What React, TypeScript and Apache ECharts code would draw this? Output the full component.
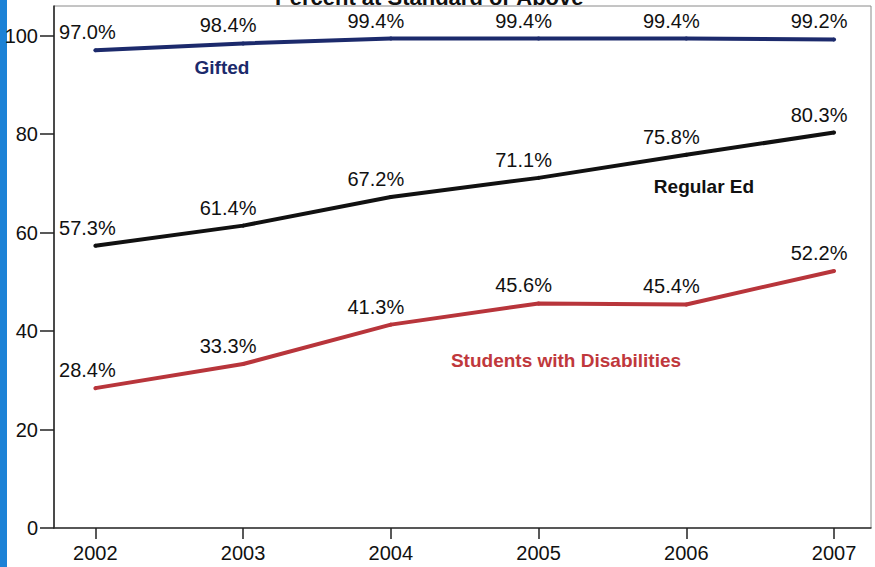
import React, { useEffect, useRef } from "react";
import * as echarts from "echarts";

const years = [2002, 2003, 2004, 2005, 2006, 2007];
const gifted = [97.0, 98.4, 99.4, 99.4, 99.4, 99.2];
const regularEd = [57.3, 61.4, 67.2, 71.1, 75.8, 80.3];
const disabilities = [28.4, 33.3, 41.3, 45.6, 45.4, 52.2];
const yTicks = [0, 20, 40, 60, 80, 100];
const seriesNames = ["Gifted", "Regular Ed", "Students with Disabilities"];
const titleText = "Percent at Standard or Above";

const FONT = "'Liberation Sans', Arial, sans-serif";

function mkSeries(name: string, values: number[], color: string) {
  return {
    name,
    type: "line",
    symbol: "circle",
    symbolSize: 4,
    showSymbol: true,
    lineStyle: { color, width: 4 },
    itemStyle: { color },
    label: {
      show: true,
      position: "top",
      distance: 5,
      offset: [-15, -1],
      color: "#111",
      fontFamily: FONT,
      fontSize: 20,
      formatter: (p: any) => p.value[1].toFixed(1) + "%",
    },
    data: values.map((v, i) =>
      i === 0
        ? { value: [years[i], v], label: { offset: [-8, -1] } }
        : { value: [years[i], v] }
    ),
  };
}

export default function App() {
  const ref = useRef<HTMLDivElement>(null);
  useEffect(() => {
    if (!ref.current) return;
    const chart = echarts.init(ref.current, null, { renderer: "svg" });
    chart.setOption({
      animation: false,
      backgroundColor: "#ffffff",
      grid: {
        left: 54,
        right: 4,
        top: 6,
        bottom: 39,
        show: true,
        borderColor: "#8a8a8a",
        borderWidth: 1,
        backgroundColor: "transparent",
      },
      xAxis: {
        type: "value",
        min: 2001.72,
        max: 2007.25,
        splitLine: { show: false },
        axisLine: { show: true, lineStyle: { color: "#333", width: 1.5 } },
        axisTick: {
          show: true,
          length: 11,
          customValues: years,
          lineStyle: { color: "#222", width: 1.5 },
        },
        axisLabel: {
          customValues: years,
          margin: 15,
          color: "#111",
          fontFamily: FONT,
          fontSize: 20,
          formatter: (v: number) => String(v),
        },
      },
      yAxis: {
        type: "value",
        min: 0,
        max: 106,
        interval: 20,
        splitLine: { show: false },
        axisLine: { show: true, lineStyle: { color: "#222", width: 1.5 } },
        axisTick: {
          show: true,
          length: 14,
          customValues: yTicks,
          lineStyle: { color: "#222", width: 1.5 },
        },
        axisLabel: {
          customValues: yTicks,
          margin: 16,
          color: "#111",
          fontFamily: FONT,
          fontSize: 20,
        },
      },
      series: [
        mkSeries(seriesNames[0], gifted, "#1c2a6c"),
        mkSeries(seriesNames[1], regularEd, "#111111"),
        mkSeries(seriesNames[2], disabilities, "#b8353b"),
      ],
      graphic: [
        {
          type: "rect",
          left: 0,
          top: 0,
          shape: { width: 7, height: 567 },
          style: { fill: "#1c82d6" },
        },
        {
          type: "text",
          x: 275,
          y: 8,
          style: {
            text: titleText,
            font: `bold 22px ${FONT}`,
            fill: "#111",
            verticalAlign: "bottom",
          },
        },
        {
          type: "text",
          x: 222,
          y: 67,
          style: {
            text: seriesNames[0],
            font: `bold 19px ${FONT}`,
            fill: "#1c2a6c",
            align: "center",
            verticalAlign: "middle",
          },
        },
        {
          type: "text",
          x: 704,
          y: 186,
          style: {
            text: seriesNames[1],
            font: `bold 19px ${FONT}`,
            fill: "#111",
            align: "center",
            verticalAlign: "middle",
          },
        },
        {
          type: "text",
          x: 566,
          y: 360,
          style: {
            text: seriesNames[2],
            font: `bold 19px ${FONT}`,
            fill: "#c0383c",
            align: "center",
            verticalAlign: "middle",
          },
        },
      ],
    });
    return () => chart.dispose();
  }, []);
  return (
    <div
      ref={ref}
      style={{ position: "absolute", left: 0, top: 0, width: 875, height: 567 }}
    />
  );
}
